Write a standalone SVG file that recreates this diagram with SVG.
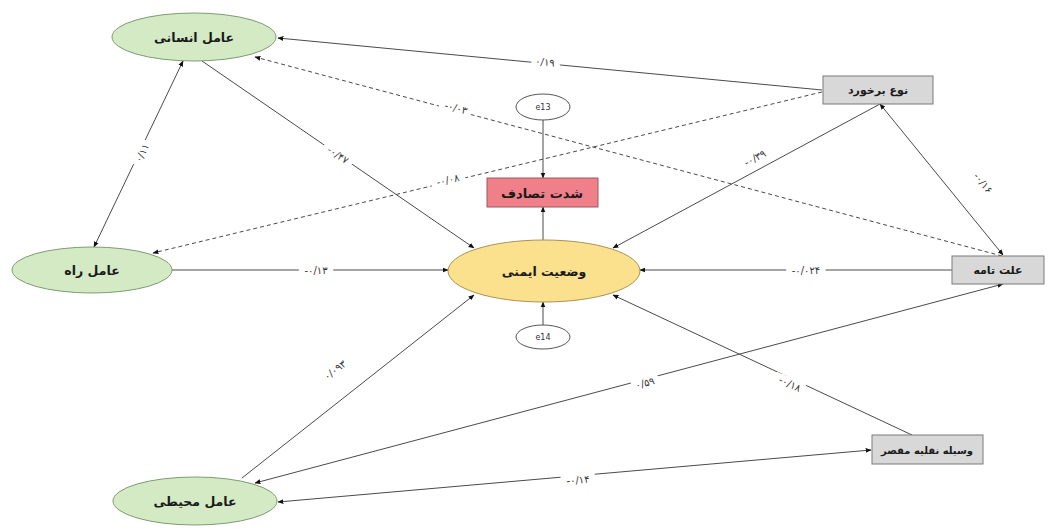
<svg xmlns="http://www.w3.org/2000/svg" width="1055" height="529" viewBox="0 0 1055 529">
<style>
.lbl{font-family:"DejaVu Sans",sans-serif;font-size:12.5px;font-weight:bold;fill:#1a1a1a;text-anchor:middle;dominant-baseline:central}
.bx{font-size:11px}
.el{font-family:"DejaVu Sans",sans-serif;font-size:10px;fill:#333;text-anchor:middle;dominant-baseline:central;stroke:#fff;stroke-width:12px;paint-order:stroke;direction:ltr;letter-spacing:1px}
.err{font-family:"DejaVu Sans",sans-serif;font-size:8px;fill:#333;text-anchor:middle;dominant-baseline:central}
.ln{stroke:#4a4a4a;stroke-width:1;fill:none}
.ds{stroke-dasharray:4 3}
.green{fill:#d3eac5;stroke:#7f9c72;stroke-width:1}
.yellow{fill:#fbe08e;stroke:#a99455;stroke-width:1}
.grey{fill:#d8d8d8;stroke:#7a7a7a;stroke-width:1}
.red{fill:#ef7f88;stroke:#9a5a5a;stroke-width:1}
.eb{fill:#fff;stroke:#555;stroke-width:1}
</style>
<defs>
<marker id="a" viewBox="0 0 10 10" refX="9" refY="5" markerWidth="6" markerHeight="6" orient="auto-start-reverse">
<path d="M0,1 L10,5 L0,9 z" fill="#111"/>
</marker>
</defs>
<g id="connectors">
<line class="ln" x1="822" y1="90" x2="278" y2="38" marker-end="url(#a)"/>
<line class="ln ds" x1="1002" y1="256" x2="255" y2="57" marker-end="url(#a)"/>
<line class="ln" x1="183" y1="61" x2="94" y2="247" marker-start="url(#a)" marker-end="url(#a)"/>
<line class="ln" x1="202" y1="61" x2="474" y2="248" marker-end="url(#a)"/>
<line class="ln ds" x1="822" y1="92" x2="153" y2="253" marker-end="url(#a)"/>
<line class="ln" x1="880" y1="104" x2="613" y2="248" marker-end="url(#a)"/>
<line class="ln" x1="1003" y1="255" x2="880" y2="104" marker-start="url(#a)" marker-end="url(#a)"/>
<line class="ln" x1="172" y1="270" x2="448" y2="270" marker-end="url(#a)"/>
<line class="ln" x1="952" y1="270" x2="640" y2="270" marker-end="url(#a)"/>
<line class="ln" x1="242" y1="478" x2="474" y2="295" marker-end="url(#a)"/>
<line class="ln" x1="255" y1="483" x2="1003" y2="284" marker-start="url(#a)" marker-end="url(#a)"/>
<line class="ln" x1="912" y1="435" x2="613" y2="295" marker-end="url(#a)"/>
<line class="ln" x1="871" y1="450" x2="278" y2="502" marker-start="url(#a)" marker-end="url(#a)"/>
<line class="ln" x1="543" y1="120" x2="543" y2="178" marker-end="url(#a)"/>
<line class="ln" x1="543" y1="240" x2="543" y2="207" marker-end="url(#a)"/>
<line class="ln" x1="543" y1="325" x2="543" y2="302" marker-end="url(#a)"/>
<text class="el" x="545" y="62" transform="rotate(5.5 545 62)">۰/۱۹</text>
<text class="el" x="456" y="108" transform="rotate(15 456 108)">-۰/۰۳</text>
<text class="el" x="142" y="153" transform="rotate(-64 142 153)">۰/۱۱</text>
<text class="el" x="338" y="155" transform="rotate(34 338 155)">-۰/۴۷</text>
<text class="el" x="448" y="180" transform="rotate(-13.5 448 180)">-۰/۰۸</text>
<text class="el" x="755" y="158" transform="rotate(-28 755 158)">-۰/۳۹</text>
<text class="el" x="983" y="183" transform="rotate(51 983 183)">-۰/۱۶</text>
<text class="el" x="316" y="270">-۰/۱۳</text>
<text class="el" x="806" y="270">-۰/۰۲۴</text>
<text class="el" x="335" y="370" transform="rotate(-38 335 370)">۰/۰۹۳</text>
<text class="el" x="645" y="383" transform="rotate(-15 645 383)">۰/۵۹</text>
<text class="el" x="790" y="384" transform="rotate(25 790 384)">-۰/۱۸</text>
<text class="el" x="578" y="480" transform="rotate(-5 578 480)">-۰/۱۴</text>
</g>
<g id="human"><ellipse class="green" cx="194" cy="37" rx="82" ry="24"/><text class="lbl" x="194" y="37">عامل انسانی</text></g>
<g id="road"><ellipse class="green" cx="92" cy="270" rx="80" ry="23"/><text class="lbl" x="92" y="270">عامل راه</text></g>
<g id="env"><ellipse class="green" cx="195" cy="501" rx="82" ry="24"/><text class="lbl" x="195" y="501">عامل محیطی</text></g>
<g id="collision"><rect class="grey" x="823" y="76" width="110" height="28"/><text class="lbl bx" x="878" y="90">نوع برخورد</text></g>
<g id="cause"><rect class="grey" x="952" y="256" width="92" height="28"/><text class="lbl bx" x="998" y="270">علت تامه</text></g>
<g id="culprit"><rect class="grey" x="872" y="435" width="111" height="29"/><text class="lbl bx" x="927" y="450" style="font-size:10px">وسیله نقلیه مقصر</text></g>
<g id="severity"><rect class="red" x="487" y="178" width="111" height="29"/><text class="lbl" x="542" y="193" style="font-size:13px">شدت تصادف</text></g>
<g id="safety"><ellipse class="yellow" cx="544" cy="271" rx="96" ry="31"/><text class="lbl" x="544" y="271">وضعیت ایمنی</text></g>
<g id="e13"><ellipse class="eb" cx="543" cy="107" rx="27" ry="13"/><text class="err" x="543" y="107">e13</text></g>
<g id="e14"><ellipse class="eb" cx="543" cy="337" rx="27" ry="12"/><text class="err" x="543" y="337">e14</text></g>
</svg>
